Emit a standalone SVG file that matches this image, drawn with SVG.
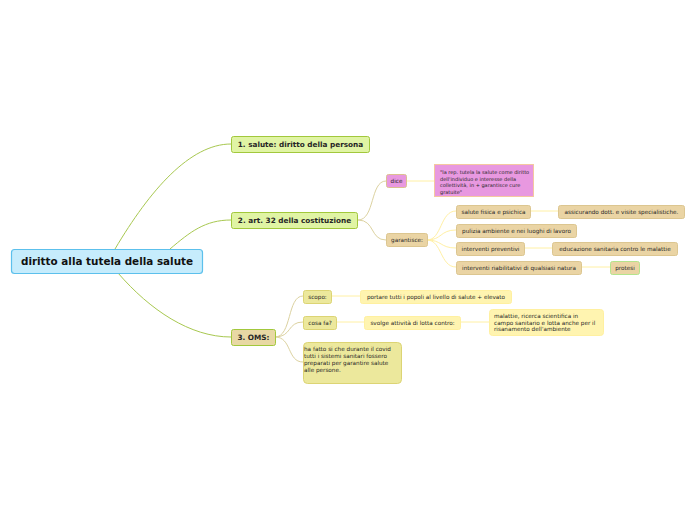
<svg xmlns="http://www.w3.org/2000/svg" width="696" height="520" viewBox="0 0 696 520">
<style>
text{font-family:"DejaVu Sans","Liberation Sans",sans-serif;fill:#262626}
.b{font-weight:bold}
.l1{fill:#e0f4a4;stroke:#a2c83c;stroke-width:1}
.oms{fill:#e8d8a4;stroke:#a2c83c;stroke-width:1}
.pink{fill:#e898e0;stroke:#dcc090;stroke-width:1}
.qt{fill:#e898e0;stroke:#f4c8a0;stroke-width:1}
.tan{fill:#ead4a4;stroke:#dcc690;stroke-width:1}
.tang{fill:#ead4a4;stroke:#b4e48c;stroke-width:1}
.olive{fill:#ece89c;stroke:#dcd474;stroke-width:1}
.yel{fill:#fff4b0;stroke:#fff0a0;stroke-width:1}
.s{font-size:5.7px}
.q{font-size:5px}
.c1{fill:none;stroke:#a8c850;stroke-width:1}
.c2{fill:none;stroke:#dcd2a0;stroke-width:1}
.c3{fill:none;stroke:#fff0a4;stroke-width:1}
</style>
<g id="connectors">
<path class="c1" d="M115,249 C150,190 190,144 231,144"/>
<path class="c1" d="M170,249 C190,232 205,220 231,220"/>
<path class="c1" d="M118,273 C150,310 190,337 231,337"/>
<path class="c2" d="M358,220 C375,220 370,181 386,181"/>
<path class="c2" d="M358,220 C375,220 370,240 386,240"/>
<path class="c3" d="M406,181 L434,181"/>
<path class="c3" d="M427,240 C442,240 440,211 456,211"/>
<path class="c3" d="M427,240 C442,240 440,230 456,230"/>
<path class="c3" d="M427,240 C442,240 440,248 456,248"/>
<path class="c3" d="M427,240 C442,240 440,267 456,267"/>
<path class="c3" d="M530,211 L558,211"/>
<path class="c3" d="M524,248 L552,248"/>
<path class="c3" d="M581,267 L610,267"/>
<path class="c2" d="M275,337 C292,337 287,296 303,296"/>
<path class="c2" d="M275,337 C292,337 287,322 303,322"/>
<path class="c2" d="M275,337 C292,337 287,362 303,362"/>
<path class="c3" d="M331,296 L360,296"/>
<path class="c3" d="M336,322 L364,322"/>
<path class="c3" d="M460,322 L489,322"/>
</g>
<g id="root"><rect x="11.5" y="249.5" width="191" height="24" rx="3" fill="#c6ecfc" stroke="#5cc0ec" stroke-width="1.2"/><text class="b" x="107" y="265" font-size="10.4" text-anchor="middle" style="fill:#111">diritto alla tutela della salute</text></g>
<g id="n1"><rect class="l1" x="231.5" y="136.5" width="138" height="16" rx="2"/><text class="b" x="300.5" y="147" font-size="7.3" text-anchor="middle">1. salute: diritto della persona</text></g>
<g id="n2"><rect class="l1" x="231.5" y="212.5" width="126" height="16" rx="2"/><text class="b" x="294.5" y="223" font-size="7.3" text-anchor="middle">2. art. 32 della costituzione</text></g>
<g id="n3"><rect class="oms" x="231.5" y="329.5" width="44" height="16" rx="2"/><text class="b" x="253.5" y="340" font-size="7.3" text-anchor="middle">3. OMS:</text></g>
<g id="dice"><rect class="pink" x="386.5" y="174.5" width="20" height="13" rx="2"/><text class="s" x="396.5" y="183" text-anchor="middle">dice</text></g>
<g id="quote"><rect class="qt" x="434.5" y="164.5" width="99" height="32"/><text class="q" x="440" y="174">"la rep. tutela la salute come diritto</text><text class="q" x="440" y="180.5">dell'individuo e interesse della</text><text class="q" x="440" y="187">collettività, in + garantisce cure</text><text class="q" x="440" y="193.5">gratuite"</text></g>
<g id="garantisce"><rect class="tan" x="386.5" y="233.5" width="41" height="13" rx="2"/><text class="s" x="407" y="242" text-anchor="middle">garantisce:</text></g>
<g id="salute"><rect class="tan" x="456.5" y="205.5" width="74" height="13" rx="2"/><text class="s" x="493.5" y="214" text-anchor="middle">salute fisica e psichica</text></g>
<g id="assicurando"><rect class="tan" x="558.5" y="205.5" width="126" height="13" rx="2"/><text class="s" x="621.5" y="214" text-anchor="middle">assicurando dott. e visite specialistiche.</text></g>
<g id="pulizia"><rect class="tan" x="456.5" y="224.5" width="120" height="13" rx="2"/><text class="s" x="516.5" y="233" text-anchor="middle">pulizia ambiente e nei luoghi di lavoro</text></g>
<g id="preventivi"><rect class="tan" x="456.5" y="242.5" width="68" height="13" rx="2"/><text class="s" x="490.5" y="251" text-anchor="middle">interventi preventivi</text></g>
<g id="educazione"><rect class="tan" x="552.5" y="242.5" width="125" height="13" rx="2"/><text class="s" x="615" y="251" text-anchor="middle">educazione sanitaria contro le malattie</text></g>
<g id="riabilitativi"><rect class="tan" x="456.5" y="261.5" width="125" height="13" rx="2"/><text class="s" x="519" y="270" text-anchor="middle">interventi riabilitativi di qualsiasi natura</text></g>
<g id="protesi"><rect class="tang" x="610.5" y="261.5" width="29" height="13" rx="2"/><text class="s" x="625" y="270" text-anchor="middle">protesi</text></g>
<g id="scopo"><rect class="olive" x="303.5" y="290.5" width="28" height="13" rx="2"/><text class="s" x="317.5" y="299" text-anchor="middle">scopo:</text></g>
<g id="portare"><rect class="yel" x="360.5" y="290.5" width="151" height="13" rx="2"/><text class="s" x="436" y="299" text-anchor="middle">portare tutti i popoli al livello di salute + elevato</text></g>
<g id="cosafa"><rect class="olive" x="303.5" y="316.5" width="33" height="13" rx="2"/><text class="s" x="320" y="325" text-anchor="middle">cosa fa?</text></g>
<g id="svolge"><rect class="yel" x="364.5" y="316.5" width="96" height="13" rx="2"/><text class="s" x="412.5" y="325" text-anchor="middle">svolge attività di lotta contro:</text></g>
<g id="malattie"><rect class="yel" x="489.5" y="309.5" width="114" height="26" rx="3"/><text class="s" x="494" y="318">malattie, ricerca scientifica in</text><text class="s" x="494" y="324.5">campo sanitario e lotta anche per il</text><text class="s" x="494" y="331">risanamento dell'ambiente</text></g>
<g id="hafatto"><rect class="olive" x="303.5" y="342.5" width="98" height="41" rx="4"/><text class="s" x="304" y="351">ha fatto si che durante il covid</text><text class="s" x="304" y="358">tutti i sistemi sanitari fossero</text><text class="s" x="304" y="365">preparati per garantire salute</text><text class="s" x="304" y="372">alle persone.</text></g>
</svg>
